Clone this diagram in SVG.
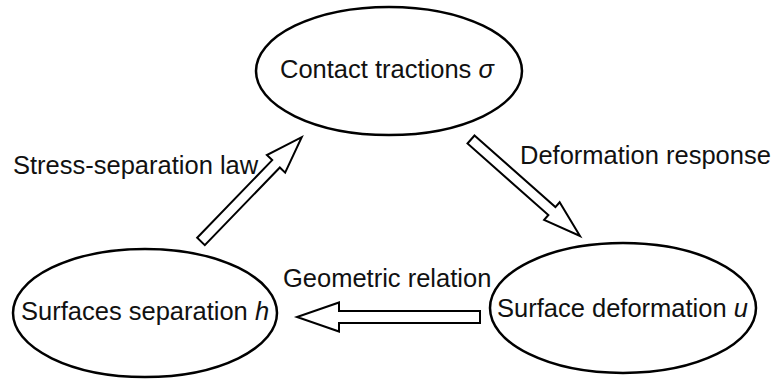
<svg xmlns="http://www.w3.org/2000/svg" width="773" height="380" viewBox="0 0 773 380">
<style>
.node ellipse{fill:#fff;stroke:#000;stroke-width:2.5}
text{font-family:"Liberation Sans",Arial,sans-serif;font-size:25.5px;fill:#111}
.it{font-style:italic}
.arrow{fill:#fff;stroke:#000;stroke-width:2;stroke-linejoin:miter}
</style>
<rect width="773" height="380" fill="#fff"/>
<g id="connectors">
<polygon class="arrow" transform="translate(201,241.5) rotate(-46)" points="0,-5.3 108,-5.3 108,-12.7 145,0 108,12.7 108,5.3 0,5.3"/>
<polygon class="arrow" transform="translate(471,139.5) rotate(41.5)" points="0,-5.3 108,-5.3 108,-11.7 145.5,0 108,11.7 108,5.3 0,5.3"/>
<polygon class="arrow" points="480,311 339,311 339,302.5 297,317 339,331.5 339,323 480,323"/>
<text x="13" y="174">Stress-separation law</text>
<text x="520" y="164">Deformation response</text>
<text x="283" y="287">Geometric relation</text>
</g>
<g id="node-contact" class="node">
<ellipse cx="389" cy="71" rx="133" ry="64"/>
<text x="280" y="78">Contact tractions <tspan class="it">σ</tspan></text>
</g>
<g id="node-separation" class="node">
<ellipse cx="145" cy="313" rx="132" ry="64"/>
<text x="21" y="320">Surfaces separation <tspan class="it">h</tspan></text>
</g>
<g id="node-deformation" class="node">
<ellipse cx="623" cy="308" rx="133" ry="65"/>
<text x="497" y="317">Surface deformation <tspan class="it">u</tspan></text>
</g>
</svg>
